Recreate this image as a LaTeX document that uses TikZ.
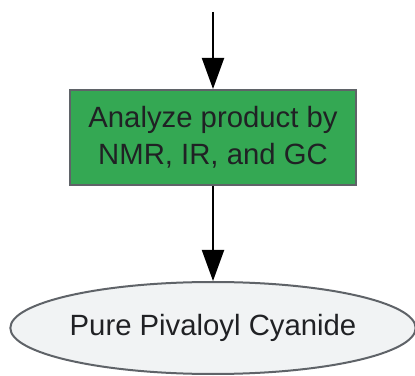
\documentclass[tikz,border=0pt]{standalone}
\usepackage{fontspec}
\setmainfont{Liberation Sans}
\usetikzlibrary{arrows.meta,shapes.geometric}
\definecolor{boxgreen}{HTML}{34A853}
\definecolor{ovalfill}{HTML}{F1F3F4}
\definecolor{edgegray}{HTML}{5F6368}
\definecolor{txt}{HTML}{202124}
\tikzset{
  procbox/.style={draw=edgegray, line width=2pt, fill=boxgreen, minimum width=286pt, minimum height=95pt, inner sep=0pt, align=center, text=txt, font=\fontsize{29.3}{36.7}\selectfont},
  endoval/.style={ellipse, draw=edgegray, line width=2pt, fill=ovalfill, minimum width=402pt, minimum height=92pt, inner sep=0pt, text=txt, font=\fontsize{29.3}{36.7}\selectfont},
  flow/.style={line width=2pt, -{Triangle[length=31pt, width=22pt]}}
}
\begin{document}
\begin{tikzpicture}[x=1pt,y=1pt]
\useasboundingbox (0,0) rectangle (415,375);
\coordinate (start) at (213,363);
\node[procbox] (analyze) at (213,237.5) {Analyze product by\\NMR, IR, and GC};
\node[endoval] (pure) at (213,47) {Pure Pivaloyl Cyanide};
\draw[flow] (start) -- (analyze.north);
\draw[flow] (analyze.south) -- (pure.north);
\end{tikzpicture}
\end{document}
